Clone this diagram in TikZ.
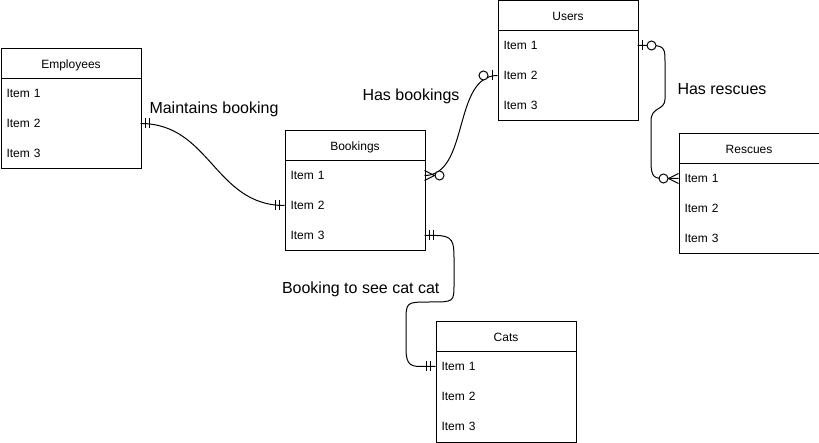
\documentclass[tikz,border=0pt]{standalone}
\usepackage{fontspec}
\setmainfont{Liberation Sans}
\newcommand{\ertable}[4]{%
  \node[hdr, anchor=north west] (#1h) at (#2,#3) {#4};
  \node[bdy, anchor=north west] (#1b) at (#2,#3+30) {};
  \node[itm, anchor=north west] (#1i1) at (#2,#3+30) {Item 1};
  \node[itm, anchor=north west] (#1i2) at (#2,#3+60) {Item 2};
  \node[itm, anchor=north west] (#1i3) at (#2,#3+90) {Item 3};
}
\begin{document}
\begin{tikzpicture}[x=1pt,y=-1pt, line width=1pt,
  hdr/.style={draw, minimum width=140pt, minimum height=30pt, inner sep=0pt,
    text height=8.6pt, text depth=0pt, font=\fontsize{12}{14}\selectfont},
  bdy/.style={draw, minimum width=140pt, minimum height=90pt, inner sep=0pt},
  itm/.style={minimum width=140pt, minimum height=30pt, text width=128pt,
    inner xsep=6pt, inner ysep=0pt, outer sep=0pt, align=left,
    text height=8.6pt, text depth=0pt, font=\fontsize{12}{14}\selectfont},
  lbl/.style={font=\fontsize{16}{19}\selectfont, inner sep=0pt, anchor=base west},
  rel/.style={line width=1pt},
  mandone/.pic={\draw[line width=1pt] (5,-5)--(5,5) (9,-5)--(9,5);},
  optone/.pic={\draw[line width=1pt] (5,-5)--(5,5);
               \draw[line width=1pt, fill=white] (14,0) circle (4.5pt);},
  optmany/.pic={\draw[line width=1pt] (0,-5)--(10,0)--(0,5);
                \draw[line width=1pt, fill=white] (15,0) circle (4.5pt);}
]
\useasboundingbox (0,0) rectangle (819,443);

\ertable{emp}{0.5}{48.5}{Employees}
\ertable{book}{284.5}{130.5}{Bookings}
\ertable{users}{497.5}{0.5}{Users}
\ertable{resc}{678.5}{133.5}{Rescues}
\ertable{cats}{435.5}{321.5}{Cats}

% Employees -> Bookings
\draw[rel] (empi2.east) .. controls +(70,0) and +(-70,0) .. (booki2.west);
\pic at (empi2.east) {mandone};
\pic[xscale=-1] at (booki2.west) {mandone};

% Bookings -> Users
\draw[rel] (booki1.east) .. controls +(45,0) and +(-45,0) .. (usersi2.west);
\pic at (booki1.east) {optmany};
\pic[xscale=-1] at (usersi2.west) {optone};

% Users -> Rescues
\draw[rel] (usersi1.east) -- (652,45.5) .. controls (665,45.5) and (665,50) .. (665,62)
  -- (665,99) .. controls (665,111) and (651,106) .. (651,121)
  -- (651,162) .. controls (651,178.5) and (655,178.5) .. (666,178.5) -- (resci1.west);
\pic at (usersi1.east) {optone};
\pic[xscale=-1] at (resci1.west) {optmany};

% Bookings -> Cats
\draw[rel] (booki3.east) -- (436,235.5) .. controls (453,235.5) and (454,242) .. (454,258)
  -- (454,284) .. controls (454,302) and (454,302) .. (430,302)
  .. controls (406,302) and (406,302) .. (406,322)
  -- (406,349) .. controls (406,366.5) and (412,366.5) .. (423,366.5) -- (catsi1.west);
\pic at (booki3.east) {mandone};
\pic[xscale=-1] at (catsi1.west) {mandone};

% labels
\node[lbl] (l1) at (149,114) {Maintains booking};
\node[lbl] (l2) at (362,100.5) {Has bookings};
\node[lbl] (l3) at (677,95) {Has rescues};
\node[lbl] (l4) at (281.5,294) {Booking to see cat cat};
\end{tikzpicture}
\end{document}
